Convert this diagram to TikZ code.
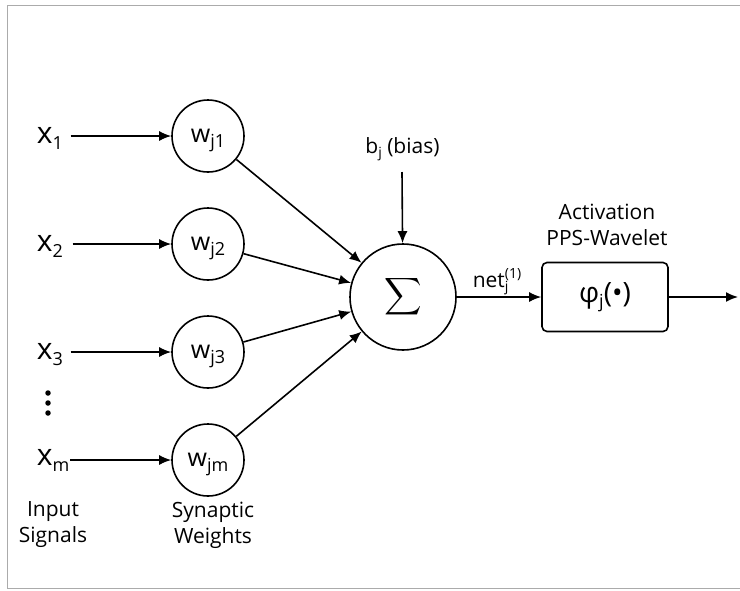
\documentclass[tikz,border=0pt]{standalone}
\usepackage{fontspec}
\setmainfont{Open Sans}
\usetikzlibrary{arrows.meta}
\newcommand\fs[1]{\fontsize{#1}{#1}\selectfont}
\newcommand\subx[3]{\raisebox{-#2pt}{\fs{#1}#3}}
\begin{document}
\begin{tikzpicture}[x=1pt,y=-1pt,
  line width=1.6pt,
  frame/.style={draw=black!33,line width=1pt},
  arr/.style={-{Latex[length=12pt,width=10pt]}},
  xlab/.style={anchor=base west,inner xsep=7pt,inner ysep=0pt,font=\fs{30}},
  wnode/.style={circle,draw,minimum size=72pt,inner sep=0pt,font=\fs{25},text height=13pt,text depth=0pt},
  txt/.style={font=\fontsize{21}{26}\selectfont,align=center,inner sep=0pt},
  dotnode/.style={circle,fill,inner sep=0pt,minimum size=5.5pt}
]
\useasboundingbox (0,0) rectangle (740,590);
\draw[frame] (740,5) -- (7,5) -- (7,588) -- (740,588);

% weight nodes
\node[wnode] (w1) at (208,136) {w\subx{18}{5}{j1}};
\node[wnode] (w2) at (208,244) {w\subx{18}{5}{j2}};
\node[wnode] (w3) at (208,352) {w\subx{18}{5}{j3}};
\node[wnode] (wm) at (208,460) {w\subx{18}{5}{jm}};

% inputs
\node[xlab] (x1) at (29,143) {x\subx{18}{6}{1}};
\node[xlab,inner xsep=9pt] (x2) at (27,251) {x\subx{18}{6}{2}};
\node[xlab] (x3) at (29,359) {x\subx{18}{6}{3}};
\node[xlab,inner xsep=0pt] (xm) at (36,465) {x\subx{18}{6}{m}};

\node[dotnode] (d1) at (48,393) {};
\node[dotnode] (d2) at (48,403) {};
\node[dotnode] (d3) at (48,413) {};

\draw[arr] (x1.east |- w1.center) -- (w1);
\draw[arr] (x2.east |- w2.center) -- (w2);
\draw[arr] (x3.east |- w3.center) -- (w3);
\draw[arr] (xm.east |- wm.center) -- (wm);

% summation
\node[circle,draw,minimum size=106pt,inner sep=0pt] (sum) at (403,297) {\scalebox{2.6}{$\displaystyle\sum$}};

\draw[arr] (w1) -- (sum);
\draw[arr] (w2) -- (sum);
\draw[arr] (w3) -- (sum);
\draw[arr] (wm) -- (sum);

% bias
\node[txt,anchor=base] (bias) at (402.5,153) {b\subx{14}{4}{j} (bias)};
\coordinate (bt) at (402,172);
\draw[arr] (bt) -- (sum);

% activation
\node[draw,rounded corners=5pt,minimum width=126pt,minimum height=69pt,inner sep=0pt,font=\fs{28}] (act) at (605,297) {φ\subx{18}{5}{j}(•)};
\node[txt] (acttitle) at (607,225) {Activation\\PPS-Wavelet};
\node[anchor=base west,inner sep=0pt,font=\fs{21}] (net) at (472,287) {net\rlap{\raisebox{9pt}{\fs{14}(1)}}\subx{14}{4}{j}};
\draw[arr] (sum) -- (act);
\coordinate (out) at (738,297);
\draw[arr] (act) -- (out);

% captions
\node[txt] (inp) at (53,525) {Input\\Signals};
\node[txt] (syn) at (213,525) {Synaptic\\Weights};
\end{tikzpicture}
\end{document}
